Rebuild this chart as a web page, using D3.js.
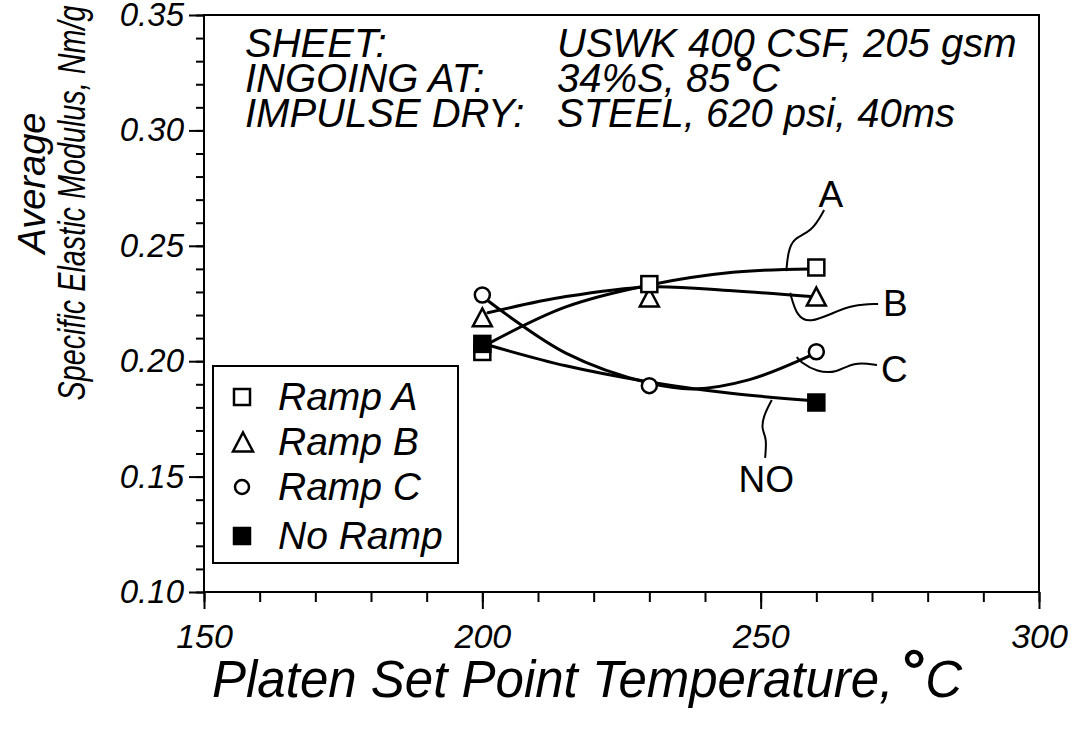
<!DOCTYPE html>
<html><head><meta charset="utf-8">
<script src="https://cdn.jsdelivr.net/npm/d3@7"></script>
<style>body{margin:0;background:#fff}text{font-family:"Liberation Sans",Arial,Helvetica,sans-serif;fill:#000}</style>
</head><body>
<svg id="chart" width="1074" height="729"></svg>
<script>
// ---- data ----
const temps = [200, 230, 260];
const rampA = [0.204, 0.2334, 0.2406];
const rampB = [0.219, 0.2276, 0.2280];
const rampC = [0.2287, 0.1894, 0.2041];
const noRampTemps = [200, 260];
const noRamp = [0.2075, 0.1821];

// fitted curves drawn through the markers
const fitATemps = [201, 215, 230, 245, 259];
const fitA = [0.2075, 0.2235, 0.2330, 0.2385, 0.2400];
const fitBTemps = [201, 215, 230, 245, 259];
const fitB = [0.2210, 0.2280, 0.2322, 0.2305, 0.2280];
const fitCTemps = [201, 215, 230, 238, 248, 259];
const fitC = [0.2262, 0.2035, 0.1905, 0.1880, 0.1920, 0.2025];
const fitNTemps = [201, 215, 230, 245, 259];
const fitN = [0.2070, 0.1980, 0.1910, 0.1860, 0.1830];

// leader lines for curve labels
const leaderATemps = [261.4, 259.2, 255.8, 254.9, 254.6];
const leaderA = [0.2655, 0.2560, 0.2534, 0.2469, 0.2390];
const leaderBTemps = [271.1, 266.6, 263.0, 258.9, 256.5, 255.3];
const leaderB = [0.2248, 0.2244, 0.2209, 0.2166, 0.2192, 0.2296];
const leaderCTemps = [270.9, 266.6, 263.7, 260.1, 257.1, 256.5];
const leaderC = [0.1984, 0.1997, 0.1949, 0.1953, 0.1997, 0.2018];
const leaderNTemps = [250.8, 251.1, 250.2, 250.4, 252.0];
const leaderN = [0.1581, 0.1667, 0.1702, 0.1758, 0.1832];

const curveLabels = ["A", "B", "C", "NO"];
const curveLabelTemps = [262.6, 274.2, 274.0, 251.0];
const curveLabelVals = [0.2668, 0.2196, 0.1910, 0.1433];

const xMajor = [150, 200, 250, 300];
const xMinor = d3.range(150, 301, 10);
const yMajor = [0.10, 0.15, 0.20, 0.25, 0.30, 0.35];
const yMinor = d3.range(10, 36, 1).map(d => d / 100);

const legendLabels = ["Ramp A", "Ramp B", "Ramp C", "No Ramp"];
const headerKeys = ["SHEET:", "INGOING AT:", "IMPULSE DRY:"];
const headerVals = ["USWK 400 CSF, 205 gsm", "34%S, 85", "STEEL, 620 psi, 40ms"];

// ---- layout ----
const L = 204, T = 15, R = 1039, B = 592;
const svg = d3.select("#chart");
const x = d3.scaleLinear().domain([150, 300]).range([L, R]);
const y = d3.scaleLinear().domain([0.10, 0.35]).range([B, T]);

// frame
svg.append("rect").attr("x", L).attr("y", T).attr("width", R - L).attr("height", B - T)
  .attr("fill", "none").attr("stroke", "#000").attr("stroke-width", 2);

// axes
const gx = svg.append("g").attr("transform", `translate(0,${B})`);
gx.call(d3.axisBottom(x).tickValues(xMinor).tickSize(10).tickFormat(""));
gx.call(g => g.select(".domain").remove());
const gx2 = svg.append("g").attr("transform", `translate(0,${B})`);
gx2.call(d3.axisBottom(x).tickValues(xMajor).tickSize(17).tickPadding(15).tickFormat(d3.format("d")));
gx2.select(".domain").remove();
gx2.selectAll("text").style("font-size", "34px").style("font-style", "italic").attr("fill", "#000");

const gy = svg.append("g").attr("transform", `translate(${L},0)`);
gy.call(d3.axisLeft(y).tickValues(yMinor).tickSize(8).tickFormat(""));
gy.select(".domain").remove();
const gy2 = svg.append("g").attr("transform", `translate(${L},0)`);
gy2.call(d3.axisLeft(y).tickValues(yMajor).tickSize(15).tickPadding(5).tickFormat(d3.format(".2f")));
gy2.select(".domain").remove();
gy2.selectAll("text").style("font-size", "33px").style("font-style", "italic").attr("fill", "#000");
svg.selectAll(".tick line").attr("stroke", "#000").attr("stroke-width", 2);

// fitted curves
const line = d3.line().x(d => x(d[0])).y(d => y(d[1])).curve(d3.curveCatmullRom.alpha(0.5));
const fits = [[fitATemps, fitA], [fitBTemps, fitB], [fitCTemps, fitC], [fitNTemps, fitN]];
fits.forEach(([xs, ys]) => {
  svg.append("path").datum(xs.map((t, i) => [t, ys[i]])).attr("d", line)
    .attr("fill", "none").attr("stroke", "#000").attr("stroke-width", 3).attr("stroke-linecap", "round");
});

// leader lines
const leaders = [[leaderATemps, leaderA], [leaderBTemps, leaderB], [leaderCTemps, leaderC], [leaderNTemps, leaderN]];
const lline = d3.line().x(d => x(d[0])).y(d => y(d[1])).curve(d3.curveBasis);
leaders.forEach(([xs, ys]) => {
  svg.append("path").datum(xs.map((t, i) => [t, ys[i]])).attr("d", lline)
    .attr("fill", "none").attr("stroke", "#000").attr("stroke-width", 2);
});
svg.selectAll(null).data(curveLabels).enter().append("text")
  .attr("x", (d, i) => x(curveLabelTemps[i])).attr("y", (d, i) => y(curveLabelVals[i]))
  .attr("text-anchor", "middle").style("font-size", "37px").text(d => d);

// markers
function square(g, cx, cy, s, filled) {
  g.append("rect").attr("x", cx - s / 2).attr("y", cy - s / 2).attr("width", s).attr("height", s)
    .attr("fill", filled ? "#000" : "#fff").attr("stroke", "#000").attr("stroke-width", 2.5);
}
function tri(g, cx, cy, s) {
  const h = s * 0.95;
  g.append("path").attr("d", `M${cx},${cy - h / 2}L${cx + s / 2},${cy + h / 2}L${cx - s / 2},${cy + h / 2}Z`)
    .attr("fill", "#fff").attr("stroke", "#000").attr("stroke-width", 2.5).attr("stroke-linejoin", "miter");
}
function circ(g, cx, cy, r) {
  g.append("circle").attr("cx", cx).attr("cy", cy).attr("r", r)
    .attr("fill", "#fff").attr("stroke", "#000").attr("stroke-width", 2.5);
}
const mk = svg.append("g");
temps.forEach((t, i) => circ(mk, x(t), y(rampC[i]), 7.5));
temps.forEach((t, i) => tri(mk, x(t), y(rampB[i]), 19));
temps.forEach((t, i) => square(mk, x(t), y(rampA[i]), 16, false));
noRampTemps.forEach((t, i) => square(mk, x(t), y(noRamp[i]), 16, true));

// legend
svg.append("rect").attr("x", 213).attr("y", 366).attr("width", 245).attr("height", 197)
  .attr("fill", "#fff").attr("stroke", "#000").attr("stroke-width", 2);
const lg = svg.append("g");
const rowY = [397, 442, 487, 536];
square(lg, 242, rowY[0], 16, false);
tri(lg, 243, rowY[1], 20);
circ(lg, 242, rowY[2], 7);
square(lg, 242, rowY[3], 16, true);
lg.selectAll("text").data(legendLabels).enter().append("text")
  .attr("x", 278).attr("y", (d, i) => rowY[i] + 13)
  .style("font-size", "39px").style("font-style", "italic").text(d => d);

// header text
const hy = [57, 92, 127];
headerKeys.forEach((k, i) => {
  svg.append("text").attr("x", 245).attr("y", hy[i]).style("font-size", "40px").style("font-style", "italic").text(k);
  const t = svg.append("text").attr("x", 557).attr("y", hy[i]).style("font-size", "40px").style("font-style", "italic").text(headerVals[i]);
  if (i === 1) {
    t.append("tspan").attr("font-weight", "bold").attr("font-size", "46px").attr("dx", "2").attr("dy", "-3").text("°");
    t.append("tspan").attr("dy", "3").text("C");
  }
});

// axis titles
const xt = svg.append("text").attr("x", 212).attr("y", 697).style("font-size", "51px").style("font-style", "italic")
  .text("Platen Set Point Temperature,");
xt.append("tspan").attr("font-weight", "bold").attr("font-size", "60px").attr("dx", "6").attr("dy", "-6").text("°");
xt.append("tspan").attr("dx", "2").attr("dy", "6").text("C");

svg.append("text").attr("transform", "translate(45,183) rotate(-90)").attr("text-anchor", "middle")
  .style("font-size", "38px").style("font-style", "italic").text("Average");
svg.append("text").attr("transform", "translate(85,203) rotate(-90)").attr("text-anchor", "middle")
  .style("font-size", "38px").style("font-style", "italic").attr("textLength", 395).attr("lengthAdjust", "spacingAndGlyphs")
  .text("Specific Elastic Modulus, Nm/g");
</script>
</body></html>
